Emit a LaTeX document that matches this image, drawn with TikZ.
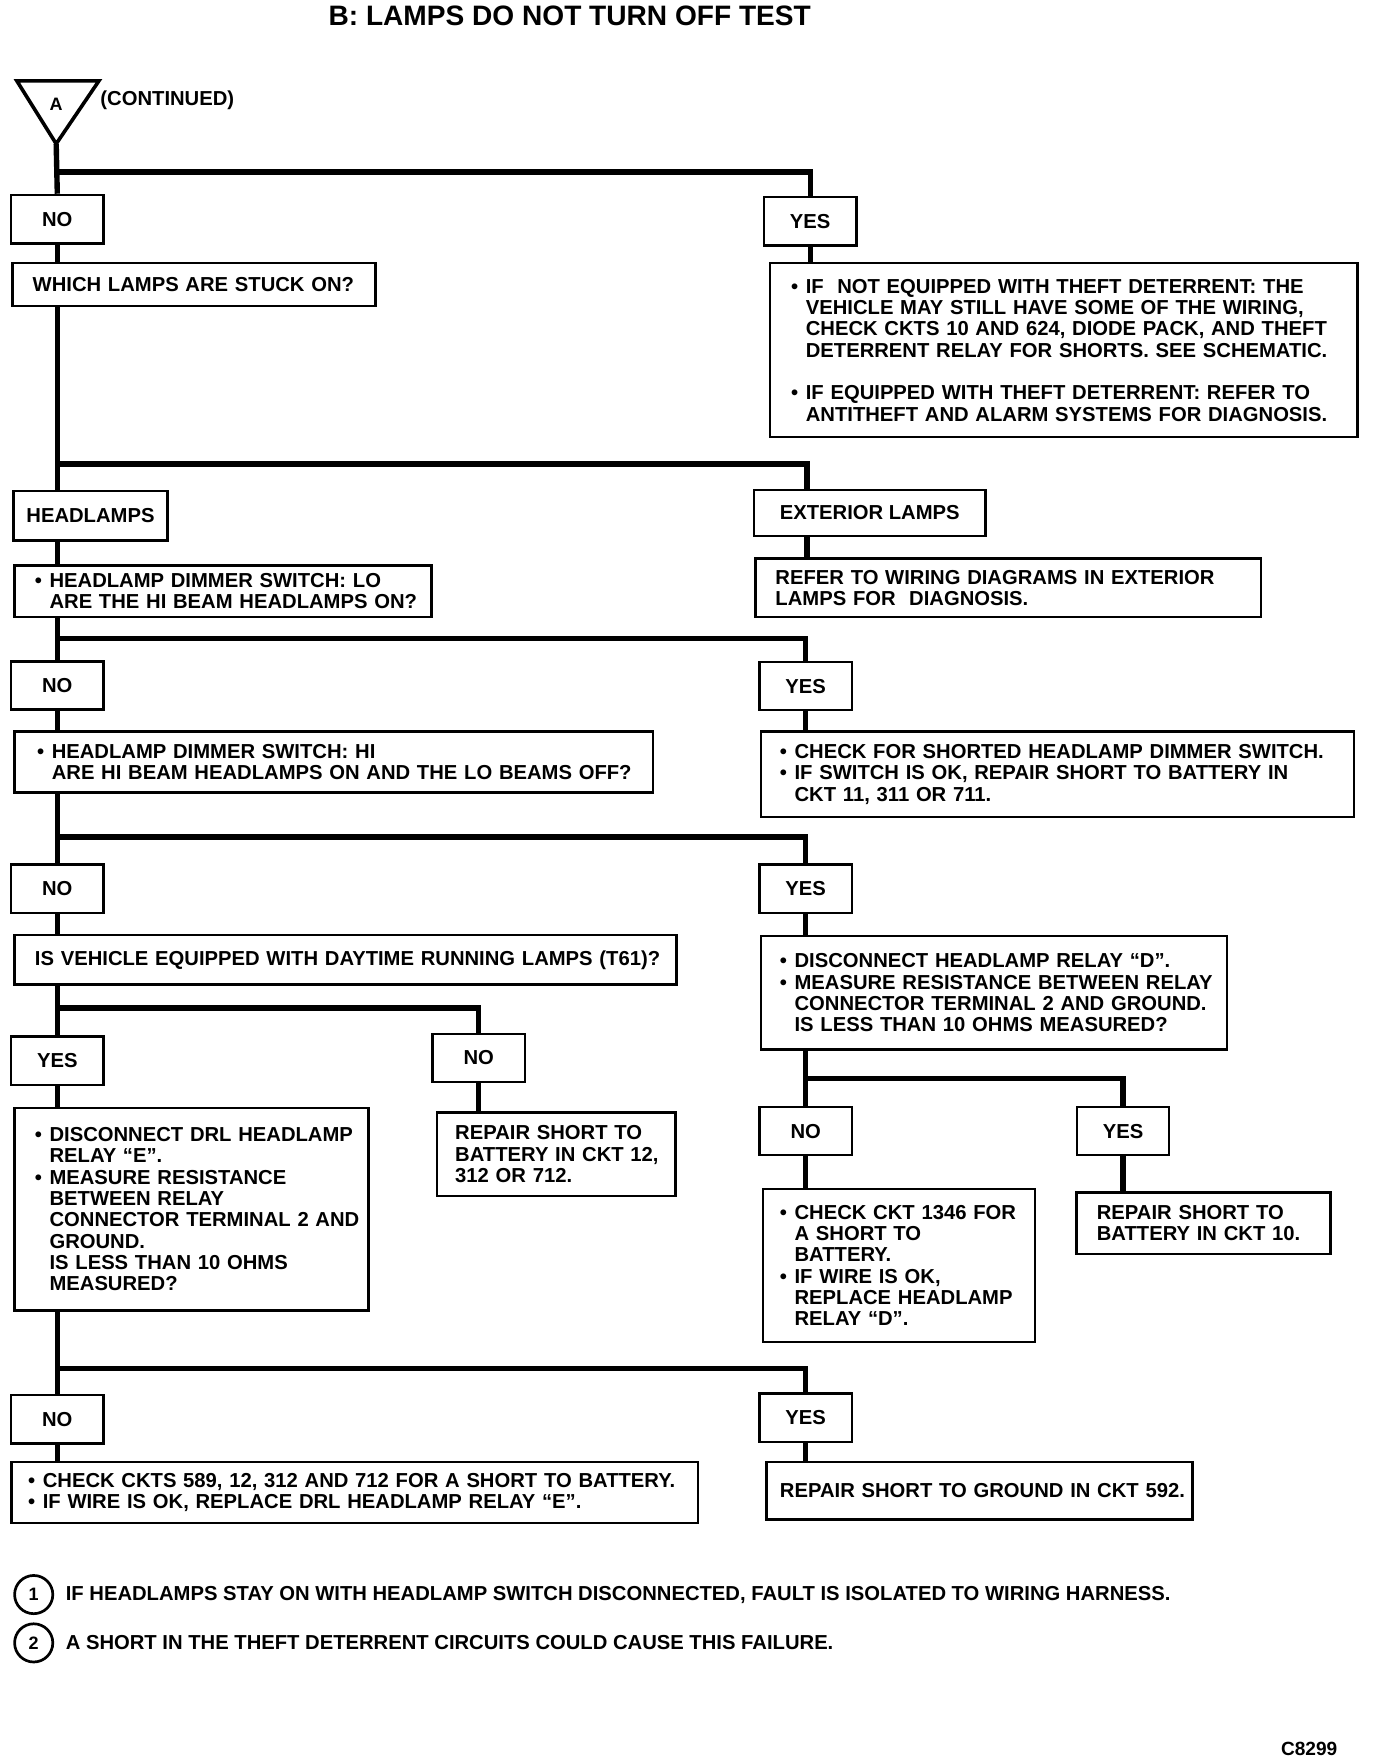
\documentclass[tikz,border=0pt]{standalone}
\usepackage{fontspec}
\setmainfont{Liberation Sans}
\usetikzlibrary{positioning}

\newcommand{\bodyfont}{\fontsize{9}{9.5}\selectfont\bfseries}
\newcommand{\bul}{\makebox[6.5pt][l]{\textbullet}}
\newcommand{\ind}{\hspace*{6.5pt}}

\begin{document}
\begin{tikzpicture}[
        x=0.5pt, y=-0.5pt,
        lead/.style={execute at begin node={\leftskip=#1\relax}},
        box/.style={
            draw=black,
            line width=1.1pt,
            anchor=north west,
            align=left,
            inner xsep=1pt,
            inner ysep=0pt,
            lead=8pt,
            font=\bodyfont
        },
        tag/.style={
            draw=black,
            line width=1.1pt,
            minimum width=41pt,
            minimum height=21.5pt,
            inner sep=0pt,
            font=\bodyfont
        },
        note/.style={
            circle,
            draw=black,
            line width=1.2pt,
            minimum size=17pt,
            inner sep=0pt,
            font=\fontsize{8}{9}\selectfont\bfseries
        },
        wire/.style={draw=black, line width=2.4pt}
    ]
        \useasboundingbox (0,0) rectangle (1224,1568);

        \node[font=\fontsize{12.5}{15}\selectfont\bfseries] (title) at (507,14) {B: LAMPS DO NOT TURN OFF TEST};

        \draw[line width=1.6pt, line join=miter] (15,72) -- (88,72) -- (50,128) -- cycle;
        \coordinate (tipA) at (50,128);
        \node[font=\fontsize{8}{9}\selectfont\bfseries] (markA) at (50,93) {A};
        \node[anchor=west, inner sep=0pt, font=\bodyfont] (cont) at (89,89) {(CONTINUED)};

        \node[tag] (no1) at (51,195) {NO};
        \node[tag] (yes1) at (721,197) {YES};
        \node[box, text width=159.5pt, minimum height=19pt] (which) at (10,233) {WHICH LAMPS ARE STUCK ON?};
        \node[box, lead=8.5pt, text width=259.5pt, minimum height=77.5pt] (theft) at (684,233) {%
            \bul IF\ \ NOT EQUIPPED WITH THEFT DETERRENT: THE\\
            \ind VEHICLE MAY STILL HAVE SOME OF THE WIRING,\\
            \ind CHECK CKTS 10 AND 624, DIODE PACK, AND THEFT\\
            \ind DETERRENT RELAY FOR SHORTS. SEE SCHEMATIC.\\[9.5pt]
            \bul IF EQUIPPED WITH THEFT DETERRENT: REFER TO\\
            \ind ANTITHEFT AND ALARM SYSTEMS FOR DIAGNOSIS.};

        \node[tag, minimum width=68.5pt, minimum height=22pt] (headlamps) at (80.5,459) {HEADLAMPS};
        \node[tag, minimum width=103pt, minimum height=20.5pt] (exterior) at (774,456.5) {EXTERIOR LAMPS};
        \node[box, text width=183.5pt, minimum height=23pt] (lodim) at (12,502) {%
            \bul HEADLAMP DIMMER SWITCH: LO\\
            \ind ARE THE HI BEAM HEADLAMPS ON?};
        \node[box, text width=223pt, minimum height=26pt] (refer) at (671,496) {%
            REFER TO WIRING DIAGRAMS IN EXTERIOR\\
            LAMPS FOR\ \ DIAGNOSIS.};

        \node[tag] (no2) at (51,610) {NO};
        \node[tag] (yes2) at (717,610.5) {YES};
        \node[box, lead=9pt, text width=282pt, minimum height=27pt] (hidim) at (12,650) {%
            \bul HEADLAMP DIMMER SWITCH: HI\\
            \ind ARE HI BEAM HEADLAMPS ON AND THE LO BEAMS OFF?};
        \node[box, lead=7.5pt, text width=262pt, minimum height=38pt] (dimsw) at (676,650) {%
            \bul CHECK FOR SHORTED HEADLAMP DIMMER SWITCH.\\
            \bul IF SWITCH IS OK, REPAIR SHORT TO BATTERY IN\\
            \ind CKT 11, 311 OR 711.};

        \node[tag] (no3) at (51,791) {NO};
        \node[tag] (yes3) at (717,791) {YES};
        \node[box, text width=292.5pt, minimum height=22pt] (drlq) at (12,831) {%
            IS VEHICLE EQUIPPED WITH DAYTIME RUNNING LAMPS (T61)?};
        \node[box, lead=7.5pt, text width=205.5pt, minimum height=50.5pt] (relayd) at (676,832) {%
            \bul DISCONNECT HEADLAMP RELAY “D”.\\
            \bul MEASURE RESISTANCE BETWEEN RELAY\\
            \ind CONNECTOR TERMINAL 2 AND GROUND.\\
            \ind IS LESS THAN 10 OHMS MEASURED?};

        \node[tag] (yes4) at (51,944) {YES};
        \node[tag] (no4) at (426,941.5) {NO};
        \node[box, text width=155.5pt, minimum height=90pt] (relaye) at (12,985) {%
            \bul DISCONNECT DRL HEADLAMP\\
            \ind RELAY “E”.\\
            \bul MEASURE RESISTANCE\\
            \ind BETWEEN RELAY\\
            \ind CONNECTOR TERMINAL 2 AND\\
            \ind GROUND.\\
            \ind IS LESS THAN 10 OHMS\\
            \ind MEASURED?};
        \node[box, lead=7pt, text width=104pt, minimum height=37pt] (repairbat) at (388,989) {%
            REPAIR SHORT TO\\
            BATTERY IN CKT 12,\\
            312 OR 712.};

        \node[tag] (no5) at (717,1006.5) {NO};
        \node[tag] (yes5) at (999.5,1006.5) {YES};
        \node[box, lead=6.5pt, text width=119pt, minimum height=68pt] (cktd) at (678,1057) {%
            \bul CHECK CKT 1346 FOR\\
            \ind A SHORT TO\\
            \ind BATTERY.\\
            \bul IF WIRE IS OK,\\
            \ind REPLACE HEADLAMP\\
            \ind RELAY “D”.};
        \node[box, text width=111pt, minimum height=27.5pt] (cktten) at (957,1060) {%
            REPAIR SHORT TO\\
            BATTERY IN CKT 10.};

        \node[tag] (no6) at (51,1263) {NO};
        \node[tag] (yes6) at (717,1261.5) {YES};
        \node[box, lead=6.5pt, text width=303.5pt, minimum height=27pt] (cktse) at (9,1300) {%
            \bul CHECK CKTS 589, 12, 312 AND 712 FOR A SHORT TO BATTERY.\\
            \bul IF WIRE IS OK, REPLACE DRL HEADLAMP RELAY “E”.};
        \node[box, lead=5pt, text width=187.5pt, minimum height=25.5pt] (gndckt) at (681,1300) {%
            REPAIR SHORT TO GROUND IN CKT 592.};

        \coordinate (j1) at (51,153);
        \coordinate (j2) at (51,413);
        \coordinate (r2) at (718,413);
        \coordinate (j3) at (51,568);
        \coordinate (j4) at (51,745);
        \coordinate (j5) at (51,897);
        \coordinate (j6) at (717,960);
        \coordinate (j7) at (51,1218);

        \draw[wire] (tipA) -- (no1.north);
        \draw[wire] (j1) -| (yes1.north);
        \draw[wire] (no1.south) -- (no1.south |- which.north);
        \draw[wire] (yes1.south) -- (yes1.south |- theft.north);

        \draw[wire] (which.south -| no1) -- (headlamps.north -| no1);
        \draw[wire] (j2) -- (r2) -- (r2 |- exterior.north);
        \draw[wire] (r2 |- exterior.south) -- (r2 |- refer.north);
        \draw[wire] (headlamps.south -| no1) -- (lodim.north -| no1);

        \draw[wire] (lodim.south -| no2) -- (no2.north);
        \draw[wire] (j3) -| (yes2.north);
        \draw[wire] (no2.south) -- (no2.south |- hidim.north);
        \draw[wire] (yes2.south) -- (yes2.south |- dimsw.north);

        \draw[wire] (hidim.south -| no3) -- (no3.north);
        \draw[wire] (j4) -| (yes3.north);
        \draw[wire] (no3.south) -- (no3.south |- drlq.north);
        \draw[wire] (yes3.south) -- (yes3.south |- relayd.north);

        \draw[wire] (drlq.south -| yes4) -- (yes4.north);
        \draw[wire] (j5) -| (no4.north);
        \draw[wire] (yes4.south) -- (yes4.south |- relaye.north);
        \draw[wire] (no4.south) -- (no4.south |- repairbat.north);

        \draw[wire] (relayd.south -| no5) -- (no5.north);
        \draw[wire] (j6) -| (yes5.north);
        \draw[wire] (no5.south) -- (no5.south |- cktd.north);
        \draw[wire] (yes5.south) -- (yes5.south |- cktten.north);

        \draw[wire] (relaye.south -| no6) -- (no6.north);
        \draw[wire] (j7) -| (yes6.north);
        \draw[wire] (no6.south) -- (no6.south |- cktse.north);
        \draw[wire] (yes6.south) -- (yes6.south |- gndckt.north);

        \node[note] (note1) at (30,1419) {1};
        \node[right=5pt of note1, inner sep=0pt, font=\bodyfont] (notetext1) {IF HEADLAMPS STAY ON WITH HEADLAMP SWITCH DISCONNECTED, FAULT IS ISOLATED TO WIRING HARNESS.};
        \node[note] (note2) at (30,1462) {2};
        \node[right=5pt of note2, inner sep=0pt, font=\bodyfont] (notetext2) {A SHORT IN THE THEFT DETERRENT CIRCUITS COULD CAUSE THIS FAILURE.};

        \node[font=\fontsize{8.5}{10}\selectfont\bfseries] (figno) at (1165,1556) {C8299};
    \end{tikzpicture}
\end{document}
